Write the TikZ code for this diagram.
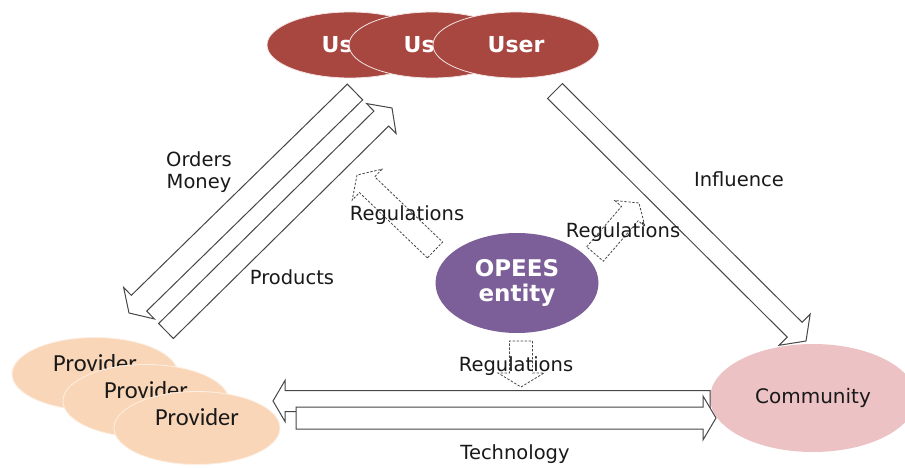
\documentclass[tikz,border=0pt]{standalone}
\usepackage{fontspec}
\setmainfont{DejaVu Sans}
\newfontfamily\provfont{Carlito}
\usetikzlibrary{calc,shapes.geometric}

\definecolor{userred}{RGB}{168,70,64}
\definecolor{provpeach}{RGB}{250,214,184}
\definecolor{commpink}{RGB}{236,194,196}
\definecolor{opeespurple}{RGB}{124,94,152}
\definecolor{arrowline}{RGB}{70,70,70}

% block arrow from tail #2 to tip #3: half shaft width #4, half head width #5, head length #6
\newcommand{\blockarrow}[6]{%
  \coordinate (#2#3base) at ($(#3)!#6!(#2)$);
  \draw[#1] ($(#2)!#4!90:(#3)$) -- ($(#2#3base)!#4!90:(#3)$)
    -- ($(#2#3base)!#5!90:(#3)$) -- (#3)
    -- ($(#2#3base)!#5!-90:(#3)$) -- ($(#2#3base)!#4!-90:(#3)$)
    -- ($(#2)!#4!-90:(#3)$) -- cycle;
}

\tikzset{
  userell/.style={ellipse, fill=userred, draw=white!85!userred, line width=0.8pt,
    minimum width=166pt, minimum height=66pt, inner sep=0pt, text=white,
    font=\fontsize{22}{26}\selectfont\bfseries},
  provell/.style={ellipse, fill=provpeach, draw=white!60!provpeach, line width=0.8pt,
    minimum width=166pt, minimum height=73pt, inner sep=0pt},
  provtext/.style={font=\provfont\fontsize{24.5}{28}\selectfont, text=black!90},
  hollow/.style={draw=arrowline, fill=white, line width=1pt, line join=miter},
  dashedhollow/.style={draw=arrowline, fill=white, line width=0.8pt, dash pattern=on 2.4pt off 1.6pt},
  lbl/.style={font=\fontsize{19.5}{22}\selectfont, text=black!90, inner sep=0pt},
}

\begin{document}
\begin{tikzpicture}[x=1pt,y=-1pt]
\useasboundingbox (0,0) rectangle (905,468);
\fill[white] (0,0) rectangle (905,468);

% stacked user ellipses
\node[userell] (user1) at (350,45) {User};
\node[userell] (user2) at (432,45) {User};
\node[userell] (user3) at (516,45) {User};

% stacked provider ellipses
\node[provell] (prov1) at (95,374) {};
\node[provtext] (prov1t) at (95,363) {Provider};
\node[provell] (prov2) at (146,401) {};
\node[provtext] (prov2t) at (146,390) {Provider};
\node[provell] (prov3) at (197,428) {};
\node[provtext] (prov3t) at (197,417) {Provider};

% community and central entity
\node[ellipse, fill=commpink, minimum width=206pt, minimum height=108pt, inner sep=0pt,
  font=\fontsize{20}{24}\selectfont, text=black!90] (comm) at (813,398) {Community};
\node[ellipse, fill=opeespurple, minimum width=163pt, minimum height=100pt, inner sep=0pt,
  text=white, align=center, font=\fontsize{23}{25}\selectfont\bfseries] (opees) at (517,283)
  {OPEES\\entity};

% end points of the flow arrows
\coordinate (ordT) at (355,92);
\coordinate (ordH) at (129,313);
\coordinate (prdT) at (166,331);
\coordinate (prdH) at (392,108);
\coordinate (infT) at (555,91);
\coordinate (infH) at (806,341);
\coordinate (tecLT) at (710,401);
\coordinate (tecLH) at (273,401);
\coordinate (tecRT) at (296,418);
\coordinate (tecRH) at (716,418);

% end points of the regulation arrows
\coordinate (regAT) at (435,250);
\coordinate (regAH) at (357,175);
\coordinate (regBT) at (595,254);
\coordinate (regBH) at (639,203);
\coordinate (regCT) at (521,341);
\coordinate (regCH) at (521,387);

\blockarrow{hollow}{ordT}{ordH}{11pt}{22pt}{14pt}
\blockarrow{hollow}{prdT}{prdH}{10.5pt}{21pt}{15pt}
\blockarrow{hollow}{infT}{infH}{10.5pt}{22pt}{16pt}
\blockarrow{hollow}{tecLT}{tecLH}{10.5pt}{20.5pt}{12pt}
\blockarrow{hollow}{tecRT}{tecRH}{11pt}{22pt}{13pt}

\blockarrow{dashedhollow}{regAT}{regAH}{11pt}{21.5pt}{14pt}
\blockarrow{dashedhollow}{regBT}{regBH}{11pt}{20pt}{14pt}
\blockarrow{dashedhollow}{regCT}{regCH}{11.5pt}{23pt}{14pt}

% labels
\node[lbl, align=center] (lorders) at (199,172) {Orders\\Money};
\node[lbl] (lprod) at (292,277) {Products};
\node[lbl] (linfl) at (739,179) {Influence};
\node[lbl] (lregA) at (407,215) {Regulations};
\node[lbl] (lregB) at (623,232) {Regulations};
\node[lbl] (lregC) at (516,366) {Regulations};
\node[lbl] (ltech) at (515,454) {Technology};
\end{tikzpicture}
\end{document}
